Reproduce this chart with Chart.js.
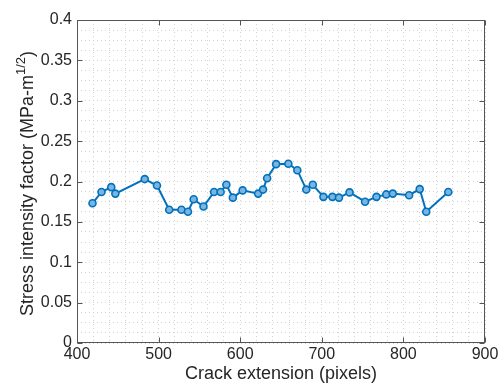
<!DOCTYPE html>
<html>
<head>
<meta charset="utf-8">
<script src="https://cdn.jsdelivr.net/npm/chart.js@4.4.1/dist/chart.umd.min.js"></script>
<style>
  html, body { margin: 0; padding: 0; background: #fff; }
</style>
</head>
<body>
<canvas id="kChart" width="501" height="385"></canvas>
<script>
// data
const crackExt = [419, 430, 442, 447, 483, 498, 513, 528, 536, 543, 555, 568, 576, 583, 591, 603, 622, 628,
                  633, 644, 659, 670, 681, 689, 702, 713, 721, 734, 753, 767, 779, 787, 807, 820, 828, 855];
const stressK = [0.173, 0.187, 0.193, 0.185, 0.203, 0.195, 0.165, 0.165, 0.1625, 0.178, 0.169, 0.187, 0.187, 0.196,
                 0.180, 0.189, 0.185, 0.190, 0.204, 0.2215, 0.222, 0.214, 0.190, 0.196, 0.181, 0.181, 0.180, 0.1865,
                 0.175, 0.181, 0.184, 0.185, 0.183, 0.1906, 0.1625, 0.187];
const xTicks = [400, 500, 600, 700, 800, 900];
const yTicks = [0, 0.05, 0.1, 0.15, 0.2, 0.25, 0.3, 0.35, 0.4];

const FONT = "'Liberation Sans', Arial, Helvetica, sans-serif";
const AXIS_COLOR = '#262626';
const GRID_COLOR = '#d2d2d2';

// box, inward tick marks and axis titles (MATLAB look)
const frame = {
    id: 'frame',
    afterDraw(chart) {
        const ctx = chart.ctx;
        const a = chart.chartArea;
        const xs = chart.scales.x, ys = chart.scales.y;
        const L = Math.round(a.left) + 0.5, R = Math.round(a.right) - 0.5;
        const T = Math.round(a.top) + 0.5, B = Math.round(a.bottom) - 0.5;
        ctx.save();
        ctx.strokeStyle = '#555';
        ctx.lineWidth = 1;
        ctx.strokeRect(L, T, R - L, B - T);
        ctx.beginPath();
        xTicks.forEach(v => {
            const px = Math.round(xs.getPixelForValue(v)) + 0.5;
            ctx.moveTo(px, B); ctx.lineTo(px, B - 5);
            ctx.moveTo(px, T); ctx.lineTo(px, T + 5);
        });
        yTicks.forEach(v => {
            const py = Math.round(ys.getPixelForValue(v)) + 0.5;
            ctx.moveTo(L, py); ctx.lineTo(L + 5, py);
            ctx.moveTo(R, py); ctx.lineTo(R - 5, py);
        });
        ctx.stroke();

        ctx.fillStyle = AXIS_COLOR;
        ctx.font = '18px ' + FONT;
        ctx.textAlign = 'center';
        ctx.textBaseline = 'alphabetic';
        ctx.fillText('Crack extension (pixels)', (a.left + a.right) / 2, 379);

        // y title with superscript
        const main = 'Stress intensity factor (MPa-m';
        const sup = '1/2';
        const close = ')';
        ctx.font = '18px ' + FONT;
        const wMain = ctx.measureText(main).width;
        const wClose = ctx.measureText(close).width;
        ctx.font = '13px ' + FONT;
        const wSup = ctx.measureText(sup).width;
        const total = wMain + wSup + wClose;
        ctx.translate(33, (a.top + a.bottom) / 2 + 2);
        ctx.rotate(-Math.PI / 2);
        ctx.textAlign = 'left';
        let x0 = -total / 2;
        ctx.font = '18px ' + FONT;
        ctx.fillText(main, x0, 0);
        ctx.font = '13px ' + FONT;
        ctx.fillText(sup, x0 + wMain, -8);
        ctx.font = '18px ' + FONT;
        ctx.fillText(close, x0 + wMain + wSup, 0);
        ctx.restore();
    }
};

const kCtx = document.getElementById('kChart').getContext('2d');
const kChart = new Chart(kCtx, {
    type: 'line',
    data: {
        datasets: [{
            data: crackExt.map((x, i) => ({ x: x, y: stressK[i] })),
            borderColor: '#0072BD',
            borderWidth: 2,
            pointRadius: 3.5,
            pointBorderWidth: 1.6,
            pointBorderColor: '#0072BD',
            pointBackgroundColor: '#7ab4e0',
            tension: 0,
            fill: false
        }]
    },
    options: {
        responsive: false,
        devicePixelRatio: 1,
        animation: false,
        layout: { padding: { top: 20, right: 16, left: 0, bottom: 0 } },
        plugins: {
            legend: { display: false },
            tooltip: { enabled: false }
        },
        scales: {
            x: {
                type: 'linear',
                min: 400,
                max: 900,
                afterFit: s => { s.height = 42; },
                ticks: {
                    stepSize: 20,
                    autoSkip: false,
                    maxRotation: 0,
                    padding: 2,
                    color: AXIS_COLOR,
                    font: { size: 16, family: FONT },
                    callback: v => xTicks.includes(v) ? String(v) : ''
                },
                grid: { color: GRID_COLOR, drawTicks: false, lineWidth: 1 },
                border: { display: false, dash: [1, 3] }
            },
            y: {
                min: 0,
                max: 0.4,
                afterFit: s => { s.width = 77; },
                ticks: {
                    stepSize: 0.0125,
                    autoSkip: false,
                    padding: 5,
                    color: AXIS_COLOR,
                    font: { size: 16, family: FONT },
                    callback: v => {
                        const k = Math.round(v * 80);
                        return k % 4 === 0 ? String(Math.round(v * 100) / 100) : '';
                    }
                },
                grid: { color: GRID_COLOR, drawTicks: false, lineWidth: 1 },
                border: { display: false, dash: [1, 3] }
            }
        }
    },
    plugins: [frame]
});
</script>
</body>
</html>
